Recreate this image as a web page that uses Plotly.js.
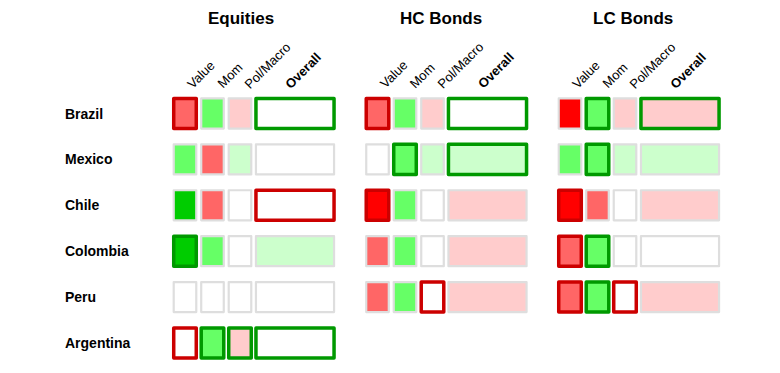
<!DOCTYPE html>
<html>
<head>
<meta charset="utf-8">
<script src="https://cdn.plot.ly/plotly-3.0.1.min.js"></script>
<style>
html,body{margin:0;padding:0;background:#fff;}
#chart{width:780px;height:373px;}
.bars path{stroke-linejoin:round;}
</style>
</head>
<body>
<div id="chart"></div>
<script>
// ---- data ----
const countries = ['Brazil', 'Mexico', 'Chile', 'Colombia', 'Peru', 'Argentina'];
const factors = ['Value', 'Mom', 'Pol/Macro', 'Overall'];
const groups = ['Equities', 'HC Bonds', 'LC Bonds'];
// fill score: -3 strong neg ... 0 neutral ... +3 strong pos ; null = not covered
const equitiesScore = [[-2, 2, -1, 0], [2, -2, 1, 0], [3, -2, 0, 0], [3, 2, 0, 1], [0, 0, 0, 0], [0, 2, -1, 0]];
const hcBondsScore  = [[-2, 2, -1, 0], [0, 2, 1, 1], [-3, 2, 0, -1], [-2, 2, 0, -1], [-2, 2, 0, -1], null];
const lcBondsScore  = [[-3, 2, -1, -1], [2, 2, 1, 1], [-3, -2, 0, -1], [-2, 2, 0, 0], [-2, 2, 0, -1], null];
// signal (border): -1 downgrade, 0 unchanged, +1 upgrade
const equitiesSignal = [[-1, 0, 0, 1], [0, 0, 0, 0], [0, 0, 0, -1], [1, 0, 0, 0], [0, 0, 0, 0], [-1, 1, 1, 1]];
const hcBondsSignal  = [[-1, 0, 0, 1], [0, 1, 0, 1], [-1, 0, 0, 0], [0, 0, 0, 0], [0, 0, -1, 0], null];
const lcBondsSignal  = [[0, 1, 0, 1], [0, 1, 0, 0], [-1, 0, 0, 0], [-1, 1, 0, 0], [-1, 1, -1, 0], null];

// ---- style ----
const fillColor = {'-3': '#FF0000', '-2': '#FF6666', '-1': '#FFCCCC', '0': '#FFFFFF', '1': '#CCFFCC', '2': '#66FF66', '3': '#00CC00'};
const lineColor = {'-1': '#CC0000', '0': '#DEDEDE', '1': '#009900'};
const lineWidth = {'-1': 3.5, '0': 2.2, '1': 3.5};
const colOffset = [0, 1, 2, 4];
const colWidth = [0.82, 0.82, 0.82, 2.84];
const groupStep = 7;
const cellH = 0.655;
const hdrOffset = [-0.12, 0.97, 1.95, 3.44];
const titleX = [2.05, 9.3, 16.3];

const scores = [equitiesScore, hcBondsScore, lcBondsScore];
const signals = [equitiesSignal, hcBondsSignal, lcBondsSignal];

const xs = [], bases = [], hs = [], ws = [], fc = [], lc = [], lw = [];
scores.forEach((gs, g) => {
  gs.forEach((row, r) => {
    if (!row) return;
    row.forEach((s, c) => {
      const sig = signals[g][r][c];
      xs.push(g * groupStep + colOffset[c]);
      bases.push(r - cellH / 2);
      hs.push(cellH);
      ws.push(colWidth[c]);
      fc.push(fillColor[String(s)]);
      lc.push(lineColor[String(sig)]);
      lw.push(lineWidth[String(sig)]);
    });
  });
});

const trace = {
  type: 'bar', x: xs, y: hs, base: bases, width: ws,
  marker: {color: fc, line: {color: lc, width: lw}},
  hoverinfo: 'skip', showlegend: false, cliponaxis: false
};

const annotations = [];
const fontFam = 'Liberation Sans, Arial, sans-serif';
groups.forEach((gname, g) => {
  annotations.push({x: titleX[g], y: -2.08, xref: 'x', yref: 'y', text: '<b>' + gname + '</b>',
    showarrow: false, xanchor: 'center', yanchor: 'middle', font: {family: fontFam, size: 17, color: '#000'}});
  factors.forEach((f, c) => {
    annotations.push({x: g * groupStep + hdrOffset[c], y: -0.42, xref: 'x', yref: 'y',
      text: c === 3 ? '<b>' + f + '</b>' : f, textangle: -45, showarrow: false,
      xanchor: 'left', yanchor: 'bottom', font: {family: fontFam, size: 13, color: '#000'}});
  });
});
countries.forEach((name, r) => {
  annotations.push({x: -4.43, y: r, xref: 'x', yref: 'y', text: '<b>' + name + '</b>', showarrow: false,
    xanchor: 'left', yanchor: 'middle', font: {family: fontFam, size: 14, color: '#000'}});
});

const layout = {
  width: 780, height: 373,
  margin: {l: 0, r: 0, t: 0, b: 0},
  paper_bgcolor: '#fff', plot_bgcolor: '#fff',
  barmode: 'overlay',
  xaxis: {range: [-6.727, 21.636], visible: false, fixedrange: true},
  yaxis: {range: [5.654, -2.473], visible: false, fixedrange: true},
  annotations: annotations,
  showlegend: false
};
Plotly.newPlot('chart', [trace], layout, {displayModeBar: false, staticPlot: true});
</script>
</body>
</html>
